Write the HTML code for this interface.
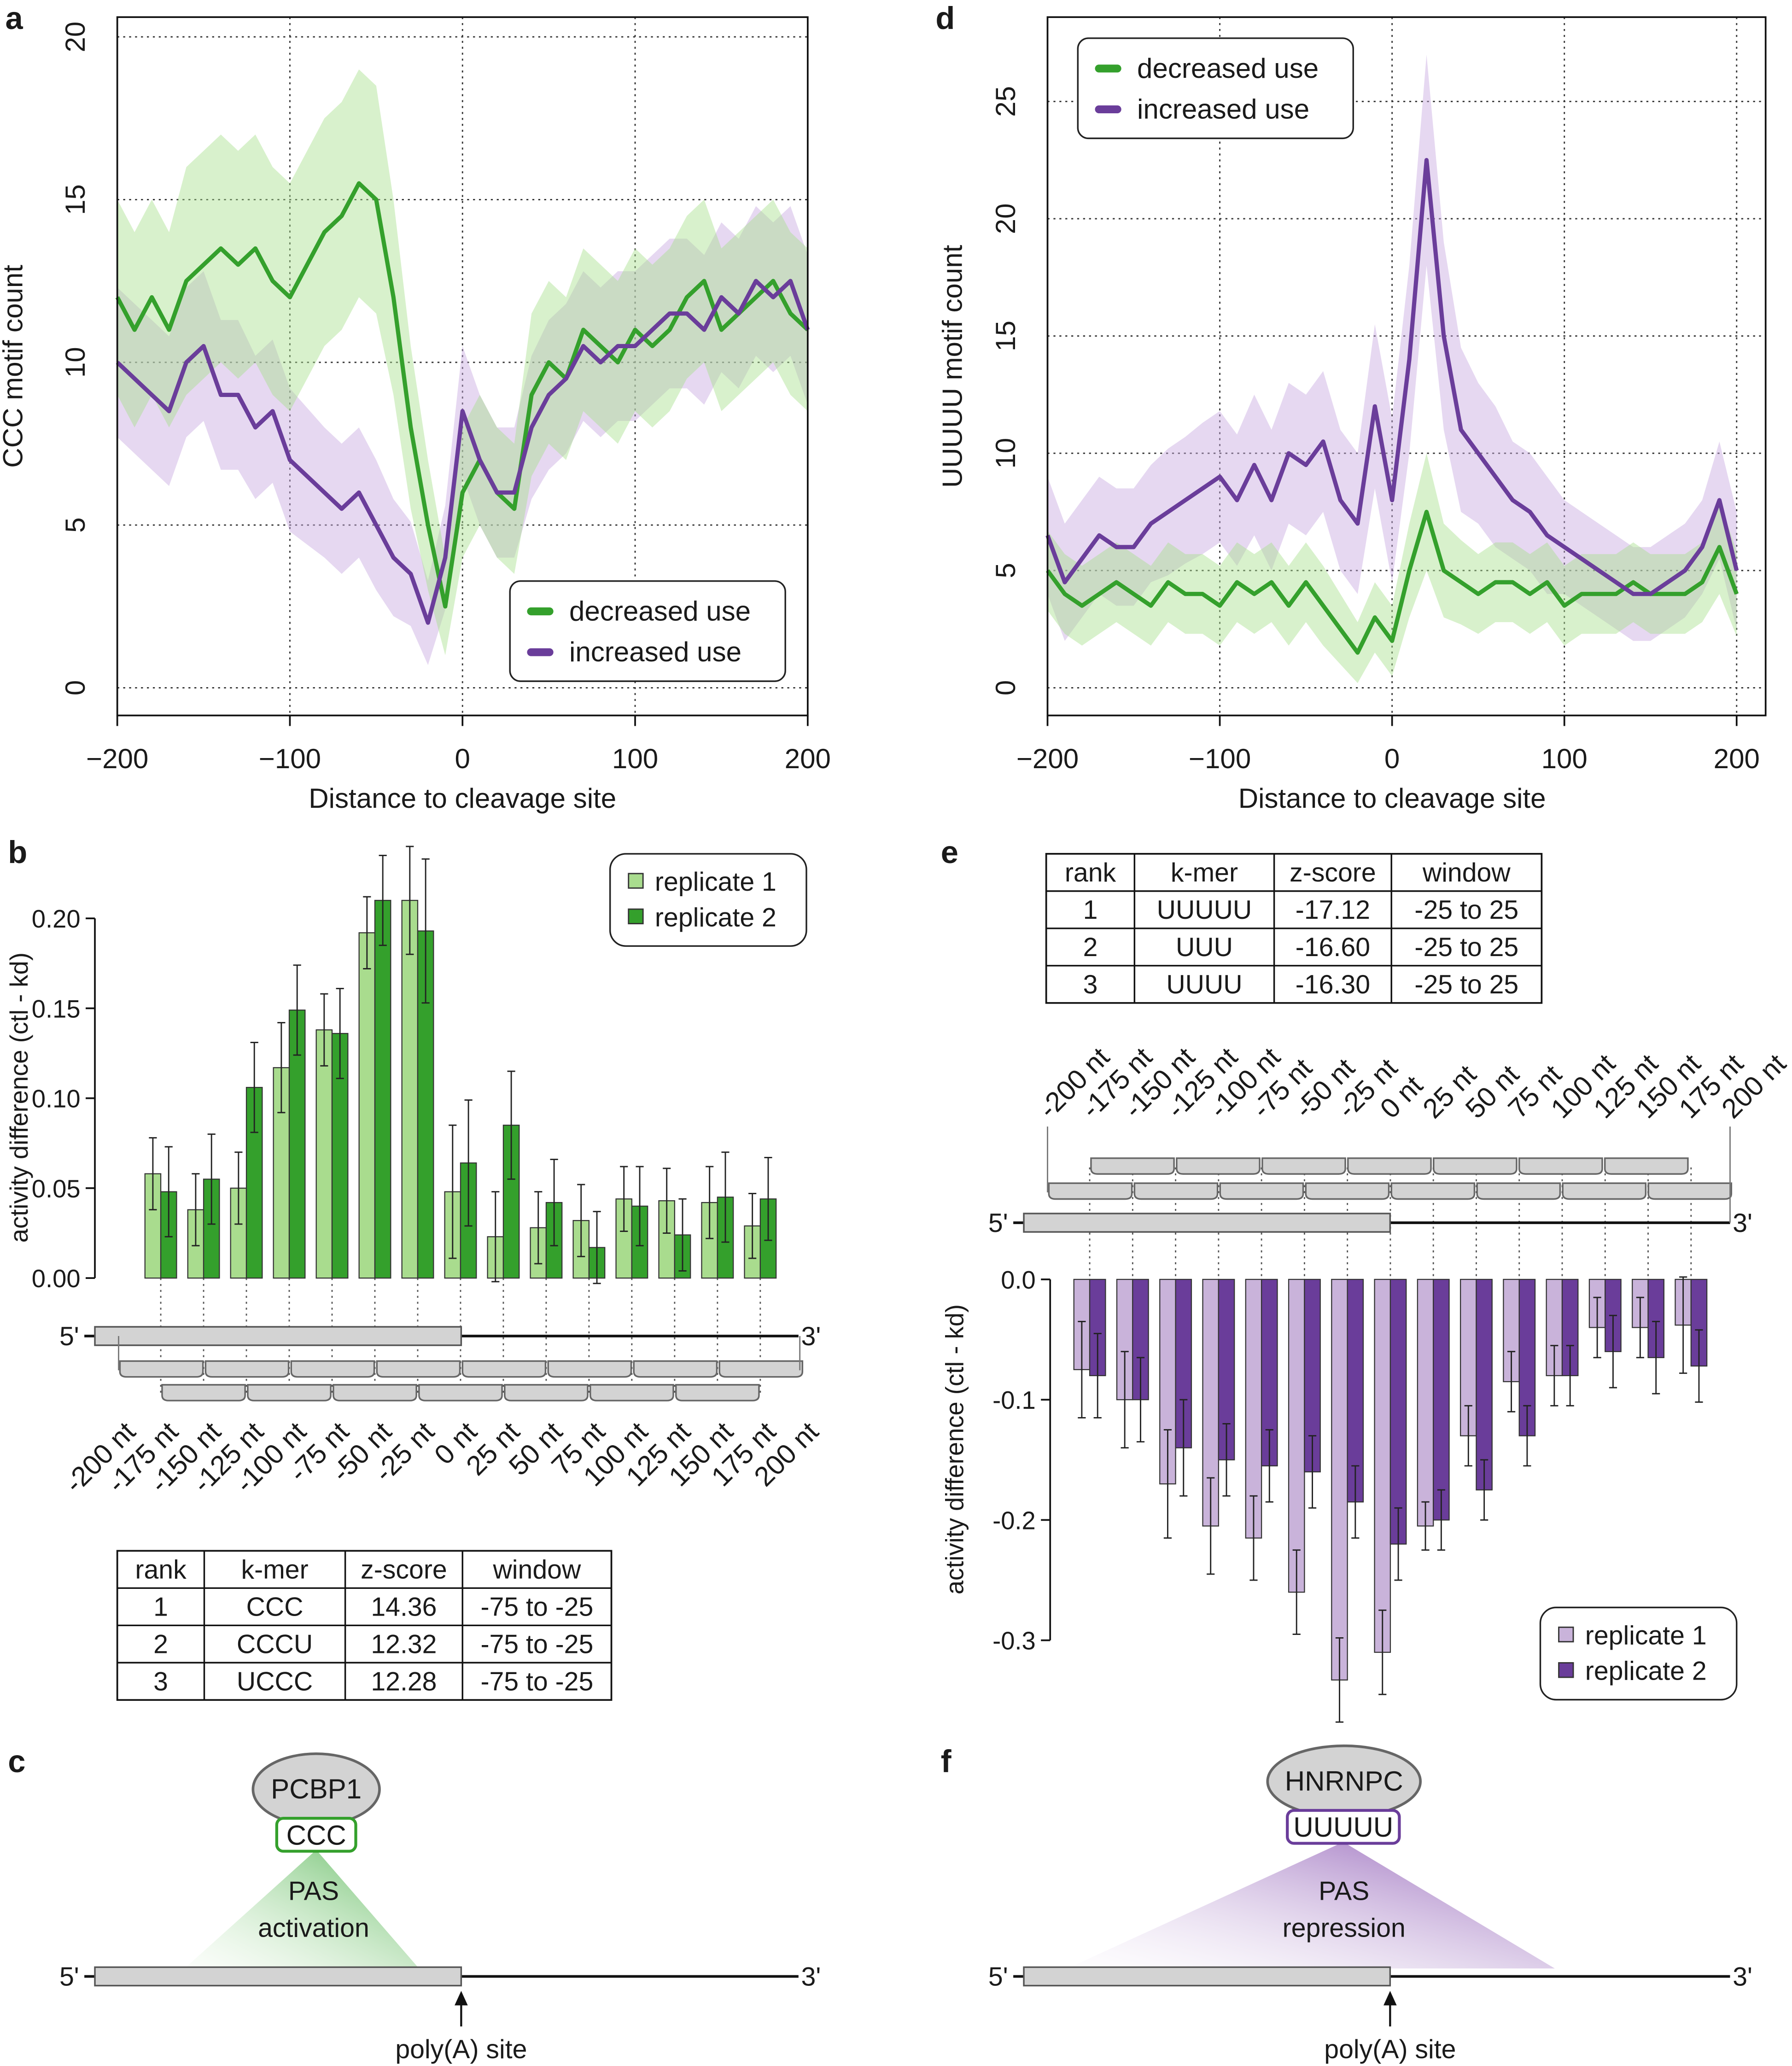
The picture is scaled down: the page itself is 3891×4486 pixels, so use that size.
<!DOCTYPE html>
<html><head><meta charset="utf-8"><style>
html,body{margin:0;padding:0;background:#fff}
svg{display:block}
text{font-family:"Liberation Sans",sans-serif;fill:#1a1a1a}
</style></head><body>
<svg id="fig" xmlns="http://www.w3.org/2000/svg" width="3891" height="4486" viewBox="0 0 1360 1568">
<rect width="1360" height="1568" fill="#fff"/>
<defs>
<linearGradient id="gg" x1="1" y1="0" x2="0" y2="1"><stop offset="0" stop-color="#5cb85c" stop-opacity="0.95"/><stop offset="1" stop-color="#d6efd0" stop-opacity="0.1"/></linearGradient>
<linearGradient id="pg" x1="1" y1="0" x2="0" y2="1"><stop offset="0" stop-color="#8e5bb5" stop-opacity="0.95"/><stop offset="1" stop-color="#e6dbef" stop-opacity="0.05"/></linearGradient>
</defs>
<g id="root"></g>
</svg>
<script>
// ---------- data ----------
const posA = [-200,-190,-180,-170,-160,-150,-140,-130,-120,-110,-100,-90,-80,-70,-60,-50,-40,-30,-20,-10,0,10,20,30,40,50,60,70,80,90,100,110,120,130,140,150,160,170,180,190,200];
const aDecreased = [12,11,12,11,12.5,13,13.5,13,13.5,12.5,12,13,14,14.5,15.5,15,12,8,5,2.5,6,7,6,5.5,9,10,9.5,11,10.5,10,11,10.5,11,12,12.5,11,11.5,12,12.5,11.5,11];
const aDecreasedBand = [3,3,3,3,3.5,3.5,3.5,3.5,3.5,3.5,3.5,3.5,3.5,3.5,3.5,3.5,3,2.5,2,1.5,2,2,2,2,2.5,2.5,2.5,2.5,2.5,2.5,2.5,2.5,2.5,2.5,2.5,2.5,2.5,2.5,2.5,2.5,2.5];
const aIncreased = [10,9.5,9,8.5,10,10.5,9,9,8,8.5,7,6.5,6,5.5,6,5,4,3.5,2,4,8.5,7,6,6,8,9,9.5,10.5,10,10.5,10.5,11,11.5,11.5,11,12,11.5,12.5,12,12.5,11];
const aIncreasedBand = [2.3,2.3,2.3,2.3,2.3,2.3,2.3,2.3,2.2,2.2,2.2,2.1,2,2,2,2,1.8,1.6,1.3,1.6,2,2,2,2,2.2,2.3,2.3,2.3,2.3,2.3,2.3,2.3,2.3,2.3,2.3,2.3,2.3,2.3,2.3,2.3,2.3];
const dIncreased = [6.5,4.5,5.5,6.5,6,6,7,7.5,8,8.5,9,8,9.5,8,10,9.5,10.5,8,7,12,8,14,22.5,15,11,10,9,8,7.5,6.5,6,5.5,5,4.5,4,4,4.5,5,6,8,5];
const dIncreasedBand = [2.5,2.5,2.5,2.5,2.5,2.5,2.5,2.7,2.7,2.8,2.8,2.8,3,3,3,3,3,3,3,3.5,3.5,4,4.5,4,3.5,3,3,2.5,2.5,2.5,2,2,2,2,2,2,2,2,2,2.5,2.5];
const dDecreased = [5,4,3.5,4,4.5,4,3.5,4.5,4,4,3.5,4.5,4,4.5,3.5,4.5,3.5,2.5,1.5,3,2,5,7.5,5,4.5,4,4.5,4.5,4,4.5,3.5,4,4,4,4.5,4,4,4,4.5,6,4];
const dDecreasedBand = [1.7,1.7,1.7,1.7,1.7,1.7,1.7,1.7,1.7,1.7,1.7,1.7,1.7,1.7,1.7,1.7,1.7,1.5,1.3,1.5,1.5,2,2.5,2,1.8,1.7,1.7,1.7,1.7,1.7,1.7,1.7,1.7,1.7,1.7,1.7,1.7,1.7,1.7,2,1.8];
const windowLabels = ["-200 nt","-175 nt","-150 nt","-125 nt","-100 nt","-75 nt","-50 nt","-25 nt","0 nt","25 nt","50 nt","75 nt","100 nt","125 nt","150 nt","175 nt","200 nt"];
const bRep1 = [.058,.038,.050,.117,.138,.192,.210,.048,.023,.028,.032,.044,.043,.042,.029];
const bRep2 = [.048,.055,.106,.149,.136,.210,.193,.064,.085,.042,.017,.040,.024,.045,.044];
const bErr1 = [.02,.02,.02,.025,.02,.02,.03,.037,.025,.02,.02,.018,.018,.02,.018];
const bErr2 = [.025,.025,.025,.025,.025,.025,.04,.035,.03,.024,.02,.022,.02,.025,.023];
const eRep1 = [-.075,-.1,-.17,-.205,-.215,-.26,-.333,-.31,-.205,-.13,-.085,-.08,-.04,-.04,-.038];
const eRep2 = [-.08,-.1,-.14,-.15,-.155,-.16,-.185,-.22,-.2,-.175,-.13,-.08,-.06,-.065,-.072];
const eErr1 = [.04,.04,.045,.04,.035,.035,.035,.035,.02,.025,.025,.025,.025,.025,.04];
const eErr2 = [.035,.035,.04,.03,.03,.03,.03,.03,.025,.025,.025,.025,.03,.03,.03];
const tableB = [["rank","k-mer","z-score","window"],["1","CCC","14.36","-75 to -25"],["2","CCCU","12.32","-75 to -25"],["3","UCCC","12.28","-75 to -25"]];
const tableE = [["rank","k-mer","z-score","window"],["1","UUUUU","-17.12","-25 to 25"],["2","UUU","-16.60","-25 to 25"],["3","UUUU","-16.30","-25 to 25"]];

// ---------- helpers ----------
const NS="http://www.w3.org/2000/svg";
const root=document.getElementById('root');
function mk(tag,attrs,parent,txt){const e=document.createElementNS(NS,tag);for(const k in attrs)e.setAttribute(k,attrs[k]);if(txt!==undefined)e.textContent=txt;(parent||root).appendChild(e);return e;}
function T(x,y,s,size,anchor,extra){const e=mk('text',Object.assign({x:x,y:y,'font-size':size||20,'text-anchor':anchor||'middle'},extra||{}),null,s);return e;}
const GREEN="#34a02c",LGREEN="#a9dc8e",PURPLE="#6a3d9a",LPURPLE="#c9b3da";

// ---------- line panels ----------
function linePanel(cfg){
  const sx=v=>cfg.x0+(v+200)/400*(cfg.x1-cfg.x0);
  const sy=v=>cfg.yz-v*cfg.ys;
  const g=mk('g',{});
  
  
  [-200,-100,0,100,200].forEach(v=>{mk('line',{x1:sx(v),x2:sx(v),y1:cfg.top,y2:cfg.bot,stroke:'#333','stroke-dasharray':'1.5,3','stroke-width':1},g);});
  cfg.yt.forEach(v=>{mk('line',{x1:cfg.x0,x2:cfg.fr,y1:sy(v),y2:sy(v),stroke:'#333','stroke-dasharray':'1.5,3','stroke-width':1},g);});
  function band(vals,bw,col){let up=vals.map((v,i)=>sx(posA[i])+','+sy(v+bw[i]));let dn=vals.map((v,i)=>sx(posA[i])+','+sy(Math.max(0,v-bw[i]))).reverse();const p=mk('polygon',{points:up.concat(dn).join(' '),fill:col,'fill-opacity':0.45},g);}
  function line(vals,col,nm){const p=mk('polyline',{points:vals.map((v,i)=>sx(posA[i])+','+sy(v)).join(' '),fill:'none',stroke:col,'stroke-width':3.2,'stroke-linejoin':'round'},g);}
  band(cfg.s2,cfg.b2,'#c8a8df');band(cfg.s1,cfg.b1,'#a8e08e');
  line(cfg.s1,GREEN,'decreased-use-line');line(cfg.s2,PURPLE,'increased-use-line');
  mk('rect',{x:cfg.x0,y:cfg.top,width:cfg.fr-cfg.x0,height:cfg.bot-cfg.top,fill:'none',stroke:'#111','stroke-width':1.3},g);
  [-200,-100,0,100,200].forEach(v=>{mk('line',{x1:sx(v),x2:sx(v),y1:cfg.bot,y2:cfg.bot+8,stroke:'#111','stroke-width':1.3},g);T(sx(v),cfg.bot+40,(v<0?'\u2212'+(-v):''+v),21);});
  cfg.yt.forEach(v=>{T(cfg.x0-32,sy(v),''+v,21,'middle',{transform:`rotate(-90 ${cfg.x0-32} ${sy(v)})`,dy:'0.35em'});});
  T((cfg.x0+cfg.x1)/2,cfg.bot+70,'Distance to cleavage site',21);
  const yl=T(cfg.ylx,(cfg.top+cfg.bot)/2,cfg.ylab,21,'middle',{transform:`rotate(-90 ${cfg.ylx} ${(cfg.top+cfg.bot)/2})`});
  
  const L=cfg.leg;const lg=mk('g',{},g);
  mk('rect',{x:L[0],y:L[1],width:209,height:76,rx:8,fill:'#fff',stroke:'#222','stroke-width':1.2},lg);
  mk('line',{x1:L[0]+16,x2:L[0]+30,y1:L[1]+23,y2:L[1]+23,stroke:GREEN,'stroke-width':6,'stroke-linecap':'round'},lg);
  mk('line',{x1:L[0]+16,x2:L[0]+30,y1:L[1]+54,y2:L[1]+54,stroke:PURPLE,'stroke-width':6,'stroke-linecap':'round'},lg);
  mk('text',{x:L[0]+45,y:L[1]+30,'font-size':21},lg,'decreased use');
  mk('text',{x:L[0]+45,y:L[1]+61,'font-size':21},lg,'increased use');
}
linePanel({name:'panel-a-ccc-chart',x0:89,x1:613,fr:613,top:13,bot:543,yz:522,ys:24.7,yt:[0,5,10,15,20],s1:aDecreased,b1:aDecreasedBand,s2:aIncreased,b2:aIncreasedBand,ylab:'CCC motif count',ylx:17,leg:[387,441]});
linePanel({name:'panel-d-uuuuu-chart',x0:795,x1:1318,fr:1340,top:13,bot:543,yz:522,ys:17.8,yt:[0,5,10,15,20,25],s1:dDecreased,b1:dDecreasedBand,s2:dIncreased,b2:dIncreasedBand,ylab:'UUUUU motif count',ylx:730,leg:[818,29]});

// ---------- bar panels ----------
function barPanel(cfg){
  const g=mk('g',{});
  const sy=v=>cfg.yz-v*cfg.ys;
  mk('line',{x1:cfg.ax,x2:cfg.ax,y1:sy(cfg.ticks[0]),y2:sy(cfg.ticks[cfg.ticks.length-1]),stroke:'#111','stroke-width':1.3},g);
  cfg.ticks.forEach((v,i)=>{mk('line',{x1:cfg.ax-7,x2:cfg.ax,y1:sy(v),y2:sy(v),stroke:'#111','stroke-width':1.3},g);mk('text',{x:cfg.ax-11,y:sy(v)+7,'font-size':19,'text-anchor':'end'},g,cfg.tl[i]);});
  const yl=mk('text',{x:cfg.ylx,y:cfg.ylc,'font-size':19,'text-anchor':'middle',transform:`rotate(-90 ${cfg.ylx} ${cfg.ylc})`},g,'activity difference (ctl - kd)');
  
  cfg.r1.forEach((v,i)=>{
    const cx=cfg.c0+i*cfg.sp;
    mk('line',{x1:cx,x2:cx,y1:cfg.dotA,y2:cfg.dotB,stroke:'#555','stroke-dasharray':'1.5,3'},g);
    [[v,cfg.e1[i],cfg.c1,-1,'replicate-1'],[cfg.r2[i],cfg.e2[i],cfg.c2,1,'replicate-2']].forEach(d=>{
      const x=d[3]<0?cx-12:cx;const y0=sy(0),y1=sy(d[0]);
      const r=mk('rect',{x:x,y:Math.min(y0,y1),width:12,height:Math.abs(y1-y0),fill:d[2],stroke:'#333','stroke-width':0.8},g);
      
      const ex=x+6;mk('line',{x1:ex,x2:ex,y1:sy(d[0]-d[1]),y2:sy(d[0]+d[1]),stroke:'#222','stroke-width':1},g);
      [d[0]-d[1],d[0]+d[1]].forEach(e=>mk('line',{x1:ex-3,x2:ex+3,y1:sy(e),y2:sy(e),stroke:'#222','stroke-width':1},g));
    });
  });
  const L=cfg.leg;const lg=mk('g',{},g);
  mk('rect',{x:L[0],y:L[1],width:149,height:70,rx:12,fill:'#fff',stroke:'#222','stroke-width':1.2},lg);
  mk('rect',{x:L[0]+14,y:L[1]+15,width:11,height:11,fill:cfg.c1,stroke:'#333'},lg);
  mk('rect',{x:L[0]+14,y:L[1]+42,width:11,height:11,fill:cfg.c2,stroke:'#333'},lg);
  mk('text',{x:L[0]+34,y:L[1]+28,'font-size':20},lg,'replicate 1');
  mk('text',{x:L[0]+34,y:L[1]+55,'font-size':20},lg,'replicate 2');
}
barPanel({name:'panel-b-bar-chart',yz:970,ys:1365,ax:72,ticks:[0,.05,.1,.15,.2],tl:['0.00','0.05','0.10','0.15','0.20'],ylx:21,ylc:833,r1:bRep1,r2:bRep2,e1:bErr1,e2:bErr2,c0:122,sp:32.5,c1:LGREEN,c2:GREEN,dotA:970,dotB:1058,leg:[463,648]});
barPanel({name:'panel-e-bar-chart',yz:971,ys:913,ax:797,ticks:[0,-.1,-.2,-.3],tl:['0.0','-0.1','-0.2','-0.3'],ylx:731,ylc:1100,r1:eRep1,r2:eRep2,e1:eErr1,e2:eErr2,c0:827,sp:32.6,c1:LPURPLE,c2:PURPLE,dotA:886,dotB:971,leg:[1169,1220]});

// ---------- gene diagrams ----------
function gene(x0,boxEnd,x1,y,name){
  const g=mk('g',{});
  mk('line',{x1:x0-8,x2:x1,y1:y,y2:y,stroke:'#111','stroke-width':2},g);
  mk('rect',{x:x0,y:y-7,width:boxEnd-x0,height:14,fill:'#d3d3d3',stroke:'#555','stroke-width':1.2},g);
  mk('text',{x:x0-12,y:y+7,'font-size':20,'text-anchor':'end'},g,"5'");
  mk('text',{x:x1+2,y:y+7,'font-size':20},g,"3'");
}
function windows(start,n,y,w,name){
  const g=mk('g',{});
  for(let i=0;i<n;i++){const x=start+i*w;mk('path',{d:`M${x+1},${y-7} L${x+w-1},${y-7} L${x+w-1},${y+1} Q${x+w-1},${y+5} ${x+w-6},${y+5} L${x+6},${y+5} Q${x+1},${y+5} ${x+1},${y+1} Z`,fill:'#d3d3d3',stroke:'#666','stroke-width':1.2},g);}
}
gene(72,350,606,1014,'gene-diagram-b');
windows(90,8,1040,65,'windows-row-1-b');windows(122,7,1058,65,'windows-row-2-b');
mk('line',{x1:90,x2:90,y1:1014,y2:1040,stroke:'#777','stroke-width':1});mk('line',{x1:607,x2:607,y1:1014,y2:1040,stroke:'#777','stroke-width':1});
windowLabels.forEach((s,i)=>{const x=104+i*32.4,y=1088;const t=T(x,y,s,21,'end',{transform:`rotate(-45 ${x} ${y})`});});
gene(777,1055,1313,928,'gene-diagram-e');
windows(795,8,905,65,'windows-row-1-e');windows(827,7,886,65,'windows-row-2-e');
mk('line',{x1:795,x2:795,y1:855,y2:905,stroke:'#777','stroke-width':1});mk('line',{x1:1313,x2:1313,y1:855,y2:928,stroke:'#777','stroke-width':1});
windowLabels.forEach((s,i)=>{const x=797+i*32.4,y=850;const t=T(x,y,s,21,'start',{transform:`rotate(-45 ${x} ${y})`});});

// ---------- tables ----------
function table(x0,y0,cols,rows,name){
  const g=mk('g',{});
  const h=28.3,x1=cols[cols.length-1];
  mk('rect',{x:x0,y:y0,width:x1-x0,height:h*4,fill:'#fff',stroke:'#111','stroke-width':1.3},g);
  for(let r=1;r<4;r++)mk('line',{x1:x0,x2:x1,y1:y0+r*h,y2:y0+r*h,stroke:'#111','stroke-width':1.2},g);
  const xs=[x0].concat(cols);
  for(let c=1;c<xs.length-1;c++)mk('line',{x1:xs[c],x2:xs[c],y1:y0,y2:y0+4*h,stroke:'#111','stroke-width':1.2},g);
  rows.forEach((row,r)=>row.forEach((s,c)=>mk('text',{x:(xs[c]+xs[c+1])/2,y:y0+r*h+21,'font-size':20,'text-anchor':'middle'},g,s)));
}
table(89,1177,[155,262,351,464],tableB,'kmer-table-b');
table(794,648,[861,967,1056,1170],tableE,'kmer-table-e');

// ---------- models c / f ----------
function model(cx,rx,prot,motif,mx0,mx1,my,col,grad,t0,tl,tr,lbl1,lbl2,g0,gb,g1,name){
  const g=mk('g',{});
  mk('polygon',{points:`${(mx0+mx1)/2},${my+24} ${tl},1494 ${tr},1494`,fill:`url(#${grad})`},g);
  mk('ellipse',{cx:cx,cy:my-22,rx:rx,ry:27,fill:'#d3d3d3',stroke:'#666','stroke-width':2},g);
  mk('text',{x:cx,y:my-15,'font-size':21,'text-anchor':'middle'},g,prot);
  mk('rect',{x:mx0,y:my,width:mx1-mx0,height:25,rx:5,fill:'#fff',stroke:col,'stroke-width':2.2},g);
  mk('text',{x:(mx0+mx1)/2,y:my+20,'font-size':21,'text-anchor':'middle'},g,motif);
  mk('text',{x:t0,y:1442,'font-size':20,'text-anchor':'middle'},g,lbl1);
  mk('text',{x:t0,y:1470,'font-size':20,'text-anchor':'middle'},g,lbl2);
  gene(g0,gb,g1,1500,name+'-gene');
  mk('line',{x1:gb,x2:gb,y1:1538,y2:1516,stroke:'#111','stroke-width':1.5},g);
  mk('path',{d:`M${gb-5},1522 L${gb},1511 L${gb+5},1522 Z`,fill:'#111'},g);
  mk('text',{x:gb,y:1562,'font-size':20,'text-anchor':'middle'},g,'poly(A) site');
}
model(240,48,'PCBP1','CCC',210,270,1380,GREEN,'gg',238,140,318,'PAS','activation',72,350,606,'model-c-pcbp1');
model(1020,58,'HNRNPC','UUUUU',977,1062,1374,PURPLE,'pg',1020,810,1180,'PAS','repression',777,1055,1313,'model-f-hnrnpc');

// ---------- panel letters ----------
[['a',4,22],['d',710,22],['b',6,655],['e',714,655],['c',6,1345],['f',714,1345]].forEach(p=>{const t=T(p[1],p[2],p[0],24,'start',{'font-weight':'bold'});});
</script>
</body></html>
